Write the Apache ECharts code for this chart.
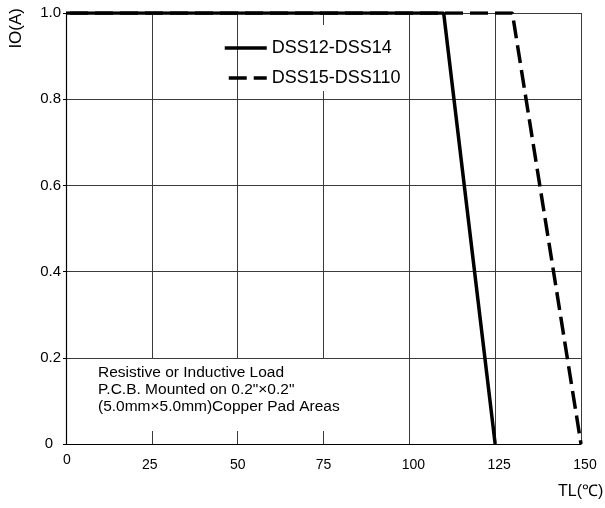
<!DOCTYPE html>
<html>
<head>
<meta charset="utf-8">
<script src="https://cdn.jsdelivr.net/npm/echarts@6/dist/echarts.min.js"></script>
<style>
html,body{margin:0;padding:0;background:#fff;}
#chart{width:605px;height:508px;}
</style>
</head>
<body>
<div id="chart"></div>
<script>
// ---- data ----
const xTickValues = [0, 25, 50, 75, 100, 125, 150];
const yTickValues = [0, 0.2, 0.4, 0.6, 0.8, 1.0];
const seriesNames = ['DSS12-DSS14', 'DSS15-DSS110'];
const tempSolid = [0, 110, 125];
const ioSolid = [1.0, 1.0, 0];
const tempDashed = [0, 130, 150];
const ioDashed = [1.0, 1.0, 0];
const noteLines = ['Resistive or Inductive Load', 'P.C.B. Mounted on 0.2"×0.2"', '(5.0mm×5.0mm)Copper Pad Areas'];
const xAxisName = 'TL(℃)';
const yAxisName = 'IO(A)';

const FONT = 'Liberation Sans, Arial, sans-serif';
const chart = echarts.init(document.getElementById('chart'), null, {renderer: 'canvas'});
const solidData = tempSolid.map((t, i) => [t, ioSolid[i]]);
const dashedData = tempDashed.map((t, i) => [t, ioDashed[i]]);

function xLabelKey(v) {
  if (v === 0) return 'z';
  if (v >= 100) return 'r';
  if (v === 25) return 'l';
  return 'n';
}
const xLab = {fontSize: 14, fontFamily: FONT, color: '#000'};

const option = {
  backgroundColor: '#fff',
  animation: false,
  grid: {left: 66, top: 13, right: 24, bottom: 64, containLabel: false},
  xAxis: {
    type: 'value', min: 0, max: 150, interval: 25,
    axisLine: {show: true, lineStyle: {color: '#000', width: 1.2}},
    axisTick: {show: false},
    splitLine: {show: true, lineStyle: {color: '#3a3a3a', width: 1}},
    axisLabel: {
      margin: 9, color: '#000', fontSize: 14, fontFamily: FONT,
      formatter: v => '{' + xLabelKey(v) + '|' + v + '}',
      rich: {
        z: Object.assign({lineHeight: 14, padding: [0, 0, 0, 2]}, xLab),
        n: Object.assign({lineHeight: 24}, xLab),
        l: Object.assign({lineHeight: 24, padding: [0, 4, 0, 0]}, xLab),
        r: Object.assign({lineHeight: 24, padding: [0, 0, 0, 8]}, xLab)
      }
    }
  },
  yAxis: {
    type: 'value', min: 0, max: 1.0, interval: 0.2,
    axisLine: {show: true, lineStyle: {color: '#000', width: 1.2}},
    axisTick: {show: true, length: 3, lineStyle: {color: '#000'}},
    splitLine: {show: true, lineStyle: {color: '#3a3a3a', width: 1}},
    axisLabel: {
      margin: 5, align: 'right', color: '#000', fontSize: 15, fontFamily: FONT,
      formatter: v => v === 0 ? '{z|0}' : v.toFixed(1),
      rich: {z: {fontSize: 15, fontFamily: FONT, color: '#000', padding: [0, 8, 0, 0]}}
    }
  },
  legend: {
    orient: 'vertical', left: 218, top: 34,
    itemWidth: 42, itemHeight: 14, itemGap: 12,
    itemStyle: {opacity: 0},
    lineStyle: {width: 3.5},
    textStyle: {fontSize: 18, color: '#000', fontFamily: FONT},
    data: seriesNames
  },
  series: [
    {
      name: seriesNames[0], type: 'line', data: solidData, symbol: 'none', showSymbol: false, z: 3,
      itemStyle: {color: '#000'},
      lineStyle: {color: '#000', width: 3.5, type: 'solid'}
    },
    {
      name: seriesNames[1], type: 'line', data: dashedData, symbol: 'none', showSymbol: false, z: 2,
      itemStyle: {color: '#000'},
      lineStyle: {color: '#000', width: 3.5, type: [18, 7], dashOffset: 21}
    }
  ],
  graphic: [
    {type: 'rect', z: 1, shape: {x: 68, y: 359, width: 292, height: 72}, style: {fill: '#fff'}},
    {type: 'rect', z: 1, shape: {x: 262, y: 25, width: 144, height: 66}, style: {fill: '#fff'}},
    {
      type: 'text', z: 5, left: 98, top: 364,
      style: {text: noteLines.join('\n'), fontSize: 15.5, lineHeight: 17, fill: '#000', fontFamily: FONT}
    },
    {
      type: 'text', z: 5, left: 8, top: 8, rotation: Math.PI / 2,
      style: {text: yAxisName, fontSize: 17, fill: '#000', fontFamily: FONT}
    },
    {
      type: 'text', z: 5, left: 558, top: 484,
      style: {text: xAxisName, fontSize: 16, fill: '#000', fontFamily: FONT}
    }
  ]
};
chart.setOption(option);
</script>
</body>
</html>
